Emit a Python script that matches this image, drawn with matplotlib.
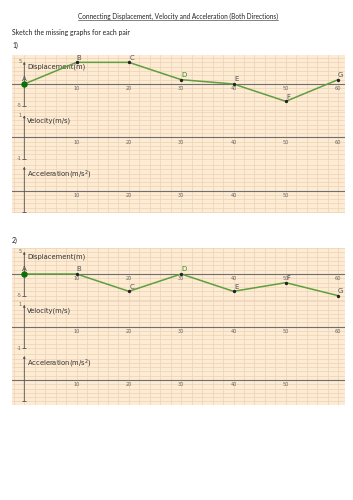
import numpy as np
import matplotlib
matplotlib.use('Agg')
import matplotlib.pyplot as plt
from matplotlib.lines import Line2D

times = [0, 10, 20, 30, 40, 50, 60]
point_names = ['A', 'B', 'C', 'D', 'E', 'F', 'G']
disp_pair1 = [0, 5, 5, 1, 0, -4, 1]
disp_pair2 = [0, 0, -4, 0, -4, -2, -5]
x_tick_vals = [10, 20, 30, 40, 50, 60]
acc_tick_vals = [10, 20, 30, 40, 50]

W, H = 353, 500
fig = plt.figure(figsize=(W / 100, H / 100), dpi=100)
fig.patch.set_facecolor('white')

PEACH = '#fdebd3'
GRID = '#edd2b6'
AXIS = '#6e6e6e'
GREEN = '#5e9f3f'
TXT = '#333333'
TICK = '#666666'

LEFT_PX, RIGHT_PX = 12, 344.5
X0_PX, X_SCALE = 24.3, 5.23   # pixel of t=0, pixels per second
xlim = ((LEFT_PX - X0_PX) / X_SCALE, (RIGHT_PX - X0_PX) / X_SCALE)


def add_panel(top, bottom, axis_y, scale, ystep):
    """axes spanning pixel rows top..bottom, y=0 at pixel axis_y"""
    ax = fig.add_axes([LEFT_PX / W, 1 - bottom / H,
                       (RIGHT_PX - LEFT_PX) / W, (bottom - top) / H])
    ax.set_facecolor(PEACH)
    ax.set_xlim(*xlim)
    ax.set_ylim((axis_y - bottom) / scale, (axis_y - top) / scale)
    ax.set_xticks(np.arange(-2, 62, 2))
    lo, hi = ax.get_ylim()
    ax.set_yticks(np.arange(np.ceil(lo / ystep) * ystep, hi, ystep))
    ax.grid(True, color=GRID, lw=0.5)
    ax.tick_params(length=0, labelbottom=False, labelleft=False)
    for s in ax.spines.values():
        s.set_visible(False)
    ax.axhline(0, color=AXIS, lw=0.8)
    return ax


def y_axis(ax, lo, hi, lo_lab=None, hi_lab=None):
    ax.annotate('', xy=(0, hi), xytext=(0, lo),
                arrowprops=dict(arrowstyle='-|>', color='#505050', lw=0.6,
                                mutation_scale=3, shrinkA=0, shrinkB=0))
    ax.plot([0], [lo], marker='_', ms=3, mew=0.6, color='#505050')
    if lo_lab is not None:
        ax.annotate(lo_lab, (0, lo), xytext=(-2.0, 0), textcoords='offset points',
                    ha='right', va='center', fontsize=3.6, color=TICK)
    if hi_lab is not None:
        ax.annotate(hi_lab, (0, hi), xytext=(-2.0, 0), textcoords='offset points',
                    ha='right', va='center', fontsize=3.6, color=TICK)


def x_labels(ax, vals):
    for v in vals:
        ax.annotate(str(v), (v, 0), xytext=(0, -3.4), textcoords='offset points',
                    ha='center', va='center', fontsize=3.6, color=TICK)


def draw_block(disp, top, disp_y, vel_y, acc_y, bottom):
    b1 = disp_y + 27
    b2 = vel_y + 25.3
    ax_d = add_panel(top, b1, disp_y, 4.33, 1.0)
    ax_v = add_panel(b1, b2, vel_y, 21.3, 0.2)
    ax_a = add_panel(b2, bottom, acc_y, 21.3, 0.2)

    y_axis(ax_d, -5, 5.15, '-5', '5')
    y_axis(ax_v, -1, 1.03, '-1', '1')
    y_axis(ax_a, -0.98, 1.13)

    x_labels(ax_d, x_tick_vals)
    x_labels(ax_v, x_tick_vals)
    x_labels(ax_a, acc_tick_vals)

    ax_d.text(0.5, 4.0, 'Displacement(m)', fontsize=4.9, color=TXT, va='center')
    ax_v.text(0.5, 0.77, 'Velocity(m/s)', fontsize=4.9, color=TXT, va='center')
    ax_a.text(0.5, 0.74, 'Acceleration(m/s$^2$)', fontsize=4.9, color=TXT, va='center')

    # displacement-time graph
    ax_d.plot(times, disp, color=GREEN, lw=1.1, zorder=4)
    ax_d.plot(times[1:], disp[1:], 'o', ms=1.4, color='#222222', zorder=5)
    ax_d.plot(times[0], disp[0], 'o', ms=3.6, color='#0b6e0b', zorder=6)
    for t, d, name in zip(times, disp, point_names):
        off = (0, 3.5) if name == 'A' else (1.9, 3.3)
        col = '#2f8a1f' if name == 'D' else '#505050'
        ax_d.annotate(name, (t, d), xytext=off, textcoords='offset points',
                      ha='center', va='center', fontsize=5.0, color=col, zorder=7)


draw_block(disp_pair1, 54.5, 84, 137.3, 190.7, 212.7)
draw_block(disp_pair2, 247.7, 274, 326.7, 380, 405)

# header text
FONT = 'Lato'
title = fig.text(178 / W, 1 - 16 / H,
                 'Connecting Displacement, Velocity and Acceleration (Both Directions)',
                 ha='center', va='center', fontsize=4.7, family=FONT, color='#222222')
fig.text(12 / W, 1 - 32 / H, 'Sketch the missing graphs for each pair',
         ha='left', va='center', fontsize=4.95, family=FONT, color='#222222')
fig.text(12 / W, 1 - 45.5 / H, '1)', ha='left', va='center', fontsize=4.95,
         family=FONT, color='#222222')
fig.text(12 / W, 1 - 240 / H, '2)', ha='left', va='center', fontsize=4.95,
         family=FONT, color='#222222')

# underline the title
fig.canvas.draw()
bb = title.get_window_extent()
uy = bb.y0 - 0.5
fig.add_artist(Line2D([bb.x0 / W, bb.x1 / W], [uy / H, uy / H],
                      color='#222222', lw=0.4))

fig.savefig('out.png', dpi=100)
